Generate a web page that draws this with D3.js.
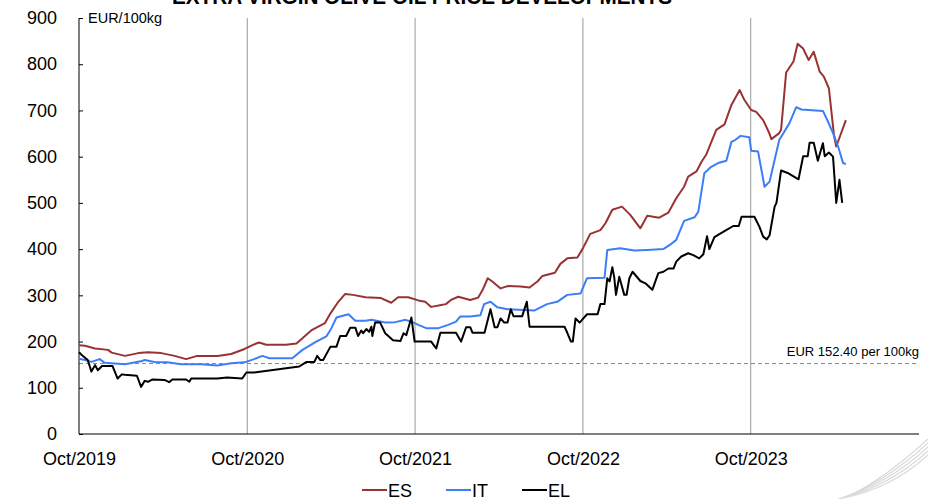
<!DOCTYPE html>
<html>
<head>
<meta charset="utf-8">
<script src="https://cdn.jsdelivr.net/npm/d3@7"></script>
<style>
  body { margin: 0; background: #fff; }
  svg { font-family: "Liberation Sans", Arial, sans-serif; }
</style>
</head>
<body>
<svg id="chart"></svg>
<script>
// EUR/100kg
const esPrices = [
  ["2019-10-01",192],["2019-10-14",191],["2019-11-05",185],["2019-12-03",182],["2019-12-11",176],
  ["2020-01-09",169],["2020-02-07",175],["2020-02-28",177],["2020-03-28",175],["2020-04-26",169],
  ["2020-05-21",162],["2020-06-14",169],["2020-07-28",169],["2020-08-27",173],["2020-09-25",184],
  ["2020-10-16",194],["2020-10-27",198],["2020-11-11",193],["2020-12-24",193],["2021-01-16",196],
  ["2021-01-29",207],["2021-02-17",224],["2021-03-19",240],["2021-03-31",261],["2021-04-17",286],
  ["2021-05-02",303],["2021-05-19",301],["2021-06-15",296],["2021-07-19",294],["2021-08-10",284],
  ["2021-08-25",296],["2021-09-16",296],["2021-10-08",289],["2021-10-23",286],["2021-11-05",275],
  ["2021-11-27",279],["2021-12-07",281],["2021-12-18",290],["2022-01-03",297],["2022-01-29",290],
  ["2022-02-15",295],["2022-02-25",312],["2022-03-08",337],["2022-03-18",330],["2022-04-05",315],
  ["2022-04-20",320],["2022-05-18",319],["2022-06-07",317],["2022-06-24",330],["2022-07-05",342],
  ["2022-08-01",349],["2022-08-13",368],["2022-08-28",380],["2022-09-19",382],["2022-09-30",400],
  ["2022-10-17",433],["2022-11-08",441],["2022-11-19",456],["2022-12-04",485],["2022-12-25",492],
  ["2023-01-12",474],["2023-02-03",445],["2023-02-18",472],["2023-03-16",468],["2023-04-05",479],
  ["2023-04-22",510],["2023-05-09",535],["2023-05-18",557],["2023-06-05",568],["2023-06-16",589],
  ["2023-06-26",604],["2023-07-18",658],["2023-08-05",670],["2023-08-20",712],["2023-09-07",744],
  ["2023-09-17",723],["2023-10-02",701],["2023-10-13",697],["2023-10-28",679],["2023-11-09",654],
  ["2023-11-15",638],["2023-12-02",651],["2023-12-06",658],["2023-12-17",782],["2024-01-02",806],
  ["2024-01-11",844],["2024-01-23",834],["2024-02-04",809],["2024-02-15",827],["2024-02-28",784],
  ["2024-03-08",773],["2024-03-19",748],["2024-03-30",647],["2024-04-04",622],["2024-04-25",679]
];

const itPrices = [
  ["2019-10-01",163],["2019-10-14",160],["2019-10-28",156],["2019-11-15",162],["2019-11-26",154],
  ["2020-01-09",151],["2020-02-15",158],["2020-02-21",160],["2020-03-13",156],["2020-04-10",155],
  ["2020-05-10",151],["2020-06-23",151],["2020-07-28",148],["2020-08-27",153],["2020-09-25",155],
  ["2020-10-16",162],["2020-11-03",169],["2020-11-18",164],["2021-01-07",164],["2021-01-29",182],
  ["2021-02-28",200],["2021-03-22",211],["2021-04-02",229],["2021-04-13",252],["2021-05-09",259],
  ["2021-05-24",245],["2021-06-15",245],["2021-06-28",247],["2021-07-28",241],["2021-08-19",242],
  ["2021-09-10",247],["2021-09-23",243],["2021-10-08",236],["2021-10-25",229],["2021-11-21",229],
  ["2021-12-12",236],["2021-12-29",243],["2022-01-07",254],["2022-01-29",254],["2022-02-20",257],
  ["2022-02-28",281],["2022-03-14",286],["2022-03-29",274],["2022-04-20",270],["2022-06-17",267],
  ["2022-07-15",281],["2022-08-06",286],["2022-08-28",301],["2022-09-26",304],["2022-10-10",337],
  ["2022-11-17",338],["2022-11-23",398],["2022-12-21",402],["2023-01-21",397],["2023-02-18",398],
  ["2023-03-25",400],["2023-04-08",409],["2023-04-22",420],["2023-05-09",461],["2023-06-01",469],
  ["2023-06-09",481],["2023-06-22",564],["2023-07-07",578],["2023-07-24",587],["2023-08-09",591],
  ["2023-08-20",632],["2023-08-28",636],["2023-09-09",645],["2023-09-28",642],["2023-10-02",613],
  ["2023-10-17",611],["2023-10-31",535],["2023-11-11",546],["2023-12-02",636],["2023-12-24",672],
  ["2024-01-08",707],["2024-01-19",702],["2024-03-06",699],["2024-03-17",676],["2024-03-28",651],
  ["2024-04-08",622],["2024-04-19",586],["2024-04-25",584]
];

const elPrices = [
  ["2019-10-01",177],["2019-10-07",171],["2019-10-20",160],["2019-10-28",135],["2019-11-05",149],
  ["2019-11-11",138],["2019-11-20",147],["2019-12-13",147],["2019-12-24",120],["2020-01-02",129],
  ["2020-01-09",128],["2020-02-04",126],["2020-02-13",102],["2020-02-21",115],["2020-02-28",113],
  ["2020-03-09",118],["2020-04-04",117],["2020-04-14",112],["2020-04-21",118],["2020-05-21",118],
  ["2020-05-28",113],["2020-06-01",120],["2020-07-28",120],["2020-08-18",122],["2020-09-20",120],
  ["2020-09-29",133],["2020-10-16",133],["2021-01-22",146],["2021-02-07",156],["2021-02-24",156],
  ["2021-03-02",169],["2021-03-09",160],["2021-03-15",160],["2021-03-31",189],["2021-04-13",189],
  ["2021-04-21",212],["2021-05-04",212],["2021-05-13",230],["2021-05-24",230],["2021-05-30",212],
  ["2021-06-06",224],["2021-06-10",218],["2021-06-17",227],["2021-06-23",221],["2021-06-28",232],
  ["2021-06-30",212],["2021-07-06",241],["2021-07-17",241],["2021-07-28",218],["2021-08-14",203],
  ["2021-08-30",201],["2021-09-06",218],["2021-09-12",214],["2021-09-23",252],["2021-09-30",200],
  ["2021-11-05",200],["2021-11-16",185],["2021-11-25",219],["2021-12-29",219],["2022-01-09",200],
  ["2022-01-20",231],["2022-01-29",231],["2022-02-03",219],["2022-03-01",219],["2022-03-14",270],
  ["2022-03-23",231],["2022-03-29",231],["2022-04-05",250],["2022-04-13",241],["2022-04-20",241],
  ["2022-04-27",270],["2022-05-03",255],["2022-05-22",255],["2022-06-01",286],["2022-06-07",232],
  ["2022-08-22",232],["2022-08-28",219],["2022-09-05",200],["2022-09-09",200],["2022-09-15",250],
  ["2022-09-24",241],["2022-10-02",250],["2022-10-10",259],["2022-11-02",259],["2022-11-08",281],
  ["2022-11-17",281],["2022-11-23",337],["2022-11-28",330],["2022-12-04",361],["2022-12-08",340],
  ["2022-12-12",301],["2022-12-19",340],["2022-12-21",333],["2022-12-30",301],["2023-01-04",301],
  ["2023-01-10",337],["2023-01-17",351],["2023-02-03",331],["2023-02-14",326],["2023-03-01",312],
  ["2023-03-14",348],["2023-03-25",351],["2023-04-05",358],["2023-04-16",358],["2023-04-22",373],
  ["2023-05-03",384],["2023-05-18",391],["2023-05-29",387],["2023-06-11",380],["2023-06-20",389],
  ["2023-06-28",428],["2023-07-03",400],["2023-07-14",426],["2023-08-03",438],["2023-08-24",450],
  ["2023-09-05",450],["2023-09-11",470],["2023-10-09",470],["2023-10-20",448],["2023-10-28",427],
  ["2023-11-05",421],["2023-11-11",430],["2023-11-22",492],["2023-11-26",500],["2023-12-06",570],
  ["2023-12-22",564],["2024-01-13",551],["2024-01-23",601],["2024-02-02",601],["2024-02-06",630],
  ["2024-02-15",630],["2024-02-24",591],["2024-03-06",629],["2024-03-10",601],["2024-03-19",609],
  ["2024-03-28",600],["2024-04-04",500],["2024-04-11",550],["2024-04-17",500]
];

const seriesNames = ["ES", "IT", "EL"];
const seriesColors = ["#993333", "#3d7dfa", "#000000"];
const yTicks = [0, 100, 200, 300, 400, 500, 600, 700, 800, 900];
const xTickDates = ["2019-10-01", "2020-10-01", "2021-10-01", "2022-10-01", "2023-10-01"];
const threshold = 152.4;

const W = 928, H = 499;
const margin = { top: 18, right: 9, bottom: 65, left: 79 };
const width = W - margin.left - margin.right;
const height = H - margin.top - margin.bottom;
const parse = d3.timeParse("%Y-%m-%d");

const svg = d3.select("#chart").attr("width", W).attr("height", H);

// title, partly off the top edge as in the source
svg.append("text")
  .attr("x", 422).attr("y", 4)
  .attr("text-anchor", "middle")
  .attr("font-weight", "bold")
  .attr("font-size", 22)
  .attr("textLength", 500)
  .attr("lengthAdjust", "spacingAndGlyphs")
  .text("EXTRA VIRGIN OLIVE OIL PRICE DEVELOPMENTS");

const g = svg.append("g").attr("transform", `translate(${margin.left},${margin.top})`);

const x = d3.scaleTime()
  .domain([parse("2019-10-01"), parse("2024-10-01")])
  .range([0, width]);

const y = d3.scaleLinear().domain([0, 900]).range([height, 0]);

// vertical grid at each October
g.selectAll(".vgrid")
  .data(xTickDates.slice(1))
  .enter().append("line")
  .attr("x1", d => x(parse(d))).attr("x2", d => x(parse(d)))
  .attr("y1", 0).attr("y2", height)
  .attr("stroke", "#999").attr("stroke-width", 1);

// threshold
g.append("line")
  .attr("x1", 0).attr("x2", width)
  .attr("y1", y(threshold)).attr("y2", y(threshold))
  .attr("stroke", "#888").attr("stroke-dasharray", "4,3");

g.append("text")
  .attr("x", width).attr("y", y(threshold) - 8)
  .attr("text-anchor", "end")
  .attr("font-size", 13)
  .text("EUR 152.40 per 100kg");

// axes
const yAxis = g.append("g")
  .call(d3.axisLeft(y).tickValues(yTicks).tickSize(-4).tickPadding(22));
yAxis.select(".domain").remove();
yAxis.append("line").attr("x1", 0).attr("x2", 0).attr("y1", 0).attr("y2", height).attr("stroke", "#000");
yAxis.selectAll("text").attr("font-size", 18).attr("fill", "#000").attr("font-family", null);

const xAxis = g.append("g")
  .attr("transform", `translate(0,${height})`)
  .call(d3.axisBottom(x)
    .tickValues(xTickDates.map(parse))
    .tickFormat(d3.timeFormat("Oct/%Y"))
    .tickSize(0).tickPadding(18));
xAxis.select(".domain").attr("d", `M0,0H${width}`);
xAxis.selectAll("text").attr("font-size", 18).attr("fill", "#000").attr("font-family", null);

g.append("text")
  .attr("x", 9).attr("y", 5)
  .attr("font-size", 14.5)
  .text("EUR/100kg");

// lines
const line = d3.line()
  .x(d => x(parse(d[0])))
  .y(d => y(d[1]));

[esPrices, itPrices, elPrices].forEach((s, i) => {
  g.append("path")
    .datum(s)
    .attr("fill", "none")
    .attr("stroke", seriesColors[i])
    .attr("stroke-width", 2)
    .attr("stroke-linejoin", "round")
    .attr("d", line);
});

// legend
const legendX = [362, 446, 522];
const legend = svg.append("g").attr("transform", "translate(0,490)");
seriesNames.forEach((name, i) => {
  legend.append("line")
    .attr("x1", legendX[i]).attr("x2", legendX[i] + 25)
    .attr("stroke", seriesColors[i]).attr("stroke-width", 2);
  legend.append("text")
    .attr("x", legendX[i] + 26).attr("y", 7)
    .attr("font-size", 18)
    .text(name);
});

// faint swoosh in the bottom-right corner
const swoosh = svg.append("g").attr("fill", "none").attr("stroke", "#d8d8d8").attr("stroke-width", 1.2);
[0, 4, 8, 12, 16].forEach(o => {
  swoosh.append("path").attr("d", `M${838 + o},${499 - o / 3} Q890,${490 - o} 928,${455 - o}`);
});
</script>
</body>
</html>
